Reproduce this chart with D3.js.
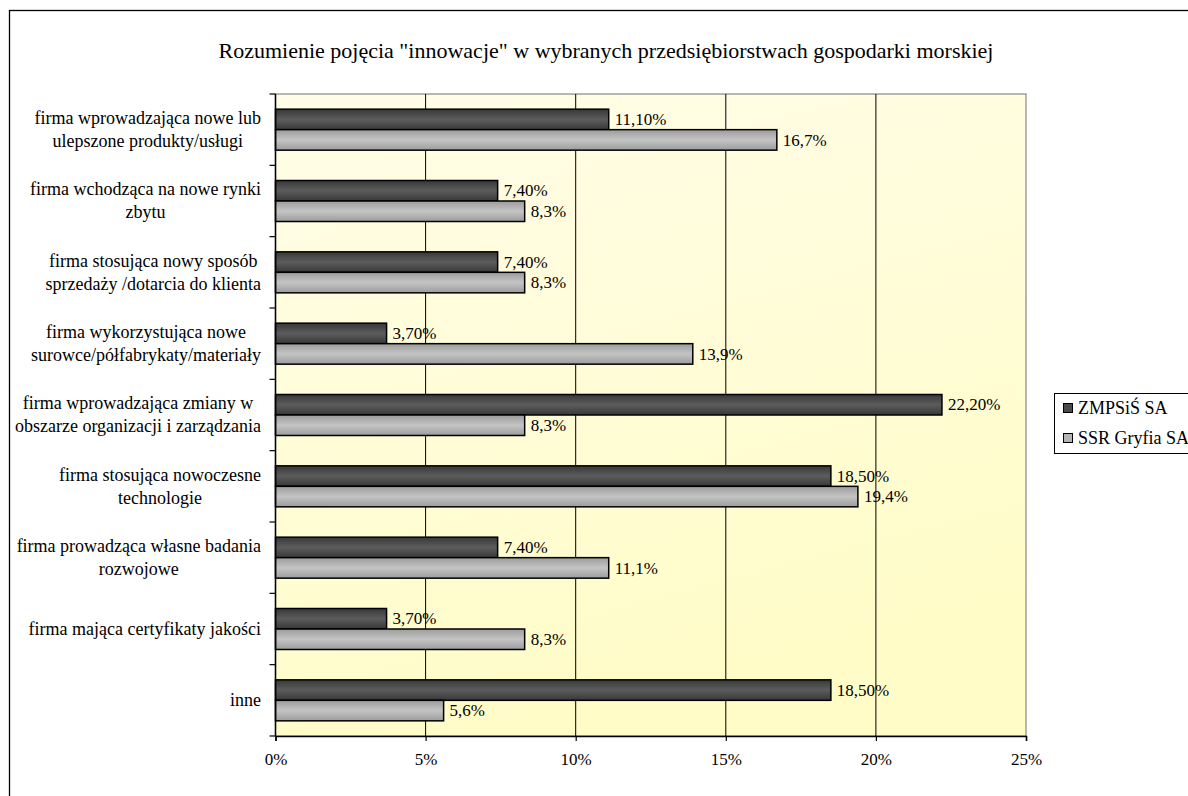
<!DOCTYPE html>
<html><head><meta charset="utf-8">
<script src="https://cdn.jsdelivr.net/npm/d3@7"></script>
<style>body{margin:0;background:#fff}svg{display:block}svg text{font-family:"Liberation Serif","Times New Roman",Times,"DejaVu Serif",serif;fill:#000}</style>
</head><body>
<script>
const categories = [
  ["firma wprowadzająca nowe lub","ulepszone produkty/usługi"],
  ["firma wchodząca na nowe rynki","zbytu"],
  ["firma stosująca nowy sposób","sprzedaży /dotarcia do klienta"],
  ["firma wykorzystująca nowe","surowce/półfabrykaty/materiały"],
  ["firma wprowadzająca zmiany w","obszarze organizacji i zarządzania"],
  ["firma stosująca nowoczesne","technologie"],
  ["firma prowadząca własne badania","rozwojowe"],
  ["firma mająca certyfikaty jakości"],
  ["inne"]
];
const seriesNames = ["ZMPSiŚ SA","SSR Gryfia SA"];
const zmpsis = [11.1, 7.4, 7.4, 3.7, 22.2, 18.5, 7.4, 3.7, 18.5];
const gryfia = [16.7, 8.3, 8.3, 13.9, 8.3, 19.4, 11.1, 8.3, 5.6];
const decimals = [2, 1];
const xTicks = [0, 5, 10, 15, 20, 25];
const title = 'Rozumienie pojęcia "innowacje" w wybranych przedsiębiorstwach gospodarki morskiej';

const FONT = '"Liberation Serif","Times New Roman",Times,"DejaVu Serif",serif';
const FS = 17;
const W = 1188, H = 796;
const svg = d3.select("body").append("svg").attr("width", W).attr("height", H)
  .attr("font-family", FONT);
const defs = svg.append("defs");
const bg = defs.append("linearGradient").attr("id","bg").attr("x1",0).attr("y1",0).attr("x2",0.3).attr("y2",1);
bg.append("stop").attr("offset","0%").attr("stop-color","#fffde8");
bg.append("stop").attr("offset","100%").attr("stop-color","#fffcc8");
function barGrad(id, edge, mid){
  const g = defs.append("linearGradient").attr("id",id).attr("x1",0).attr("y1",0).attr("x2",0).attr("y2",1);
  g.append("stop").attr("offset","0%").attr("stop-color",edge);
  g.append("stop").attr("offset","50%").attr("stop-color",mid);
  g.append("stop").attr("offset","100%").attr("stop-color",edge);
}
barGrad("g0","#383838","#5c5c5c");
barGrad("g1","#9c9c9c","#c4c4c4");
const fills = ["url(#g0)","url(#g1)"];
const legendFills = ["#4a4a4a","#b4b4b4"];

svg.append("rect").attr("x",9.5).attr("y",10.5).attr("width",1200).attr("height",820)
  .attr("fill","none").attr("stroke","#000").attr("stroke-width",1.3);

svg.append("text").attr("x",606).attr("y",58).attr("text-anchor","middle")
  .style("font-size","22px").text(title);

const L = 275.5, R = 1026, T = 94, B = 736;
const x = d3.scaleLinear().domain([0,25]).range([L,R]);
const y = d3.scaleBand().domain(d3.range(categories.length)).range([T,B]);

svg.append("rect").attr("x",L).attr("y",T).attr("width",R-L).attr("height",B-T)
  .attr("fill","url(#bg)").attr("stroke","#888").attr("stroke-width",1.2);

svg.append("g").selectAll("line").data(xTicks.slice(1,-1)).join("line")
  .attr("x1",d=>x(d)).attr("x2",d=>x(d)).attr("y1",T).attr("y2",B)
  .attr("stroke","#000").attr("stroke-width",1);

const data = [zmpsis, gryfia];
const barH = 20.5;
data.forEach((vals, si) => {
  const g = svg.append("g");
  vals.forEach((v, i) => {
    const cy = y(i) + y.bandwidth()/2;
    const by = cy - barH + si*barH;
    g.append("rect").attr("x",x(0)).attr("y",by).attr("width",x(v)-x(0)).attr("height",barH)
      .attr("fill",fills[si]).attr("stroke","#000").attr("stroke-width",1.5);
    g.append("text").attr("x",x(v)+6).attr("y",by+barH/2).attr("dy","0.33em")
      .style("font-size",FS+"px").text(v.toFixed(decimals[si]).replace(".",",")+"%");
  });
});

const xa = svg.append("g").attr("transform",`translate(0,${B})`)
  .call(d3.axisBottom(x).tickValues(xTicks).tickFormat(d=>d+"%").tickSize(5).tickPadding(12));
xa.attr("font-family", FONT).attr("font-size", FS);
xa.select(".domain").attr("stroke","#000").attr("stroke-width",1.5);
xa.selectAll(".tick line").attr("stroke","#000").attr("stroke-width",1.2);
xa.selectAll("text").style("font-size",FS+"px");

svg.append("line").attr("x1",L).attr("x2",L).attr("y1",T).attr("y2",B).attr("stroke","#000").attr("stroke-width",1.5);
svg.append("g").selectAll("line").data(d3.range(categories.length+1)).join("line")
  .attr("x1",L-6).attr("x2",L).attr("y1",i=>T+i*y.bandwidth()).attr("y2",i=>T+i*y.bandwidth())
  .attr("stroke","#000").attr("stroke-width",1.2);

const labelRight = 261;
const lineH = 23;
categories.forEach((lines, i) => {
  const cy = y(i) + y.bandwidth()/2;
  const g = svg.append("g");
  const texts = lines.map((ln, k) => g.append("text")
    .attr("y", cy + (k - (lines.length-1)/2)*lineH).attr("dy","0.33em")
    .attr("text-anchor","middle").style("font-size","18px").text(ln));
  const maxW = d3.max(texts, t => t.node().getComputedTextLength());
  texts.forEach(t => t.attr("x", labelRight - maxW/2));
});

const lg = svg.append("g");
lg.append("rect").attr("x",1054.5).attr("y",393.5).attr("width",150).attr("height",60)
  .attr("fill","#fff").attr("stroke","#000").attr("stroke-width",1);
seriesNames.forEach((n, i) => {
  const cy = 408 + i*30;
  lg.append("rect").attr("x",1063.5).attr("y",cy-4.5).attr("width",9).attr("height",9)
    .attr("fill",legendFills[i]).attr("stroke","#000").attr("stroke-width",1);
  lg.append("text").attr("x",1078).attr("y",cy).attr("dy","0.33em").style("font-size","18px").text(n);
});
</script>
</body></html>
